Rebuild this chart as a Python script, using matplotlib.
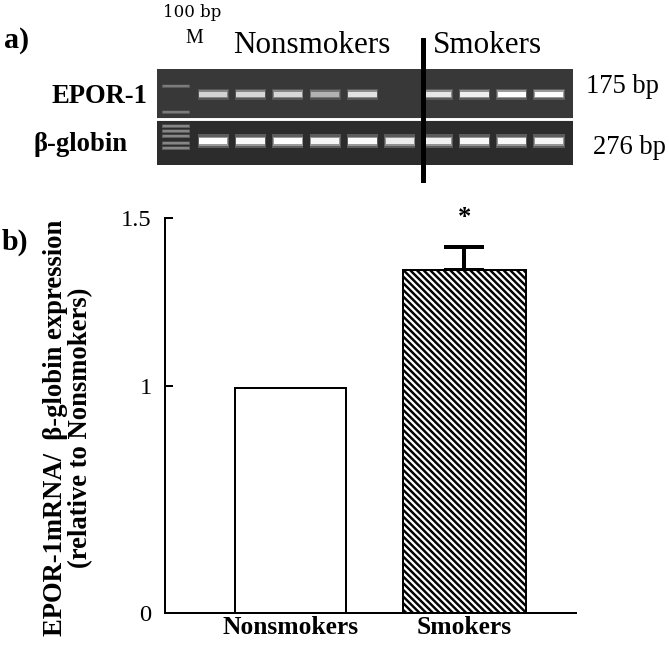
"""EPOR-1 RT-PCR gel and relative expression bar chart (nonsmokers vs smokers)."""
import matplotlib
matplotlib.use("Agg")
import matplotlib.pyplot as plt
import numpy as np
from matplotlib.lines import Line2D
from matplotlib.patches import Rectangle

# ---- data ----
categories = ["Nonsmokers", "Smokers"]
expression = [0.99, 1.345]
sem = [0.0, 0.069]

# gel lanes: 0 = 100 bp marker, 1-6 nonsmokers, 7-10 smokers
epor_band = [0.0, 0.78, 0.80, 0.80, 0.62, 0.85, 0.0, 0.88, 0.92, 1.0, 1.0]
globin_band = [0.0, 1.0, 0.97, 1.0, 0.95, 0.98, 0.9, 0.93, 0.97, 0.97, 0.95]
marker_rows_top = [86, 112]
marker_rows_bottom = [126, 131, 136, 143, 148]

W, H, DPI = 669, 645, 80
SERIF = "Liberation Serif"
plt.rcParams["font.family"] = SERIF
plt.rcParams["hatch.linewidth"] = 2.2


def fx(x):
    return x / W


def fy(y):
    return 1 - y / H


fig = plt.figure(figsize=(W / DPI, H / DPI), dpi=DPI)

# ---- panel a: gel ----
gel = fig.add_axes([fx(157), fy(165), fx(573) - fx(157), fy(69) - fy(165)])
lane0, lane_step = 176, 37.3
gel.set_xlim((157 - lane0) / lane_step, (573 - lane0) / lane_step)
gel.set_ylim(165, 69)
gel.axis("off")

for top, bot, col in [(69, 117, "#383838"), (121, 165, "#2c2c2c")]:
    gel.add_patch(Rectangle((-1, top), 13, bot - top, color=col, zorder=1))


def band(x, yc, h, level, w=0.76):
    bg = np.array([0.21, 0.21, 0.21])
    for grow, a in [(2.2, 0.2), (1.5, 0.5), (1.0, 1.0)]:
        c = bg + (1 - bg) * level * a
        hh = h * grow
        gel.add_patch(Rectangle((x - w / 2 - 0.03 * (grow - 1), yc - hh / 2),
                                w + 0.06 * (grow - 1), hh,
                                color=tuple(c), lw=0, zorder=2 + a))


for i, lv in enumerate(epor_band):
    if lv > 0:
        band(i, 94, 5, lv)
for i, lv in enumerate(globin_band):
    if lv > 0:
        band(i, 141, 6, lv)
for r in marker_rows_top:
    band(0, r, 2, 0.35, w=0.7)
for r in marker_rows_bottom:
    band(0, r, 2, 0.4, w=0.7)

fig.add_artist(Line2D([fx(422.5)] * 2, [fy(40), fy(180)], lw=4.5, color="black"))

fig.text(fx(4), fy(48), "a)", fontsize=27, fontweight="bold", va="baseline")
fig.text(fx(192), fy(17), "100 bp", fontsize=15, family="DejaVu Serif",
         ha="center", va="baseline")
fig.text(fx(194), fy(43), "M", fontsize=18, ha="center", va="baseline")
fig.text(fx(312), fy(53), "Nonsmokers", fontsize=28, ha="center", va="baseline")
fig.text(fx(487), fy(53), "Smokers", fontsize=28, ha="center", va="baseline")
fig.text(fx(99), fy(103), "EPOR-1", fontsize=24, fontweight="bold",
         ha="center", va="baseline")
fig.text(fx(81), fy(151), "β-globin", fontsize=24, fontweight="bold",
         ha="center", va="baseline")
fig.text(fx(586), fy(93), "175 bp", fontsize=24, va="baseline")
fig.text(fx(593), fy(154), "276 bp", fontsize=24, va="baseline")

# ---- panel b: bar chart ----
ax = fig.add_axes([fx(165), fy(613), fx(576) - fx(165), fy(218) - fy(613)])

K = 2 * 168 / 227  # upper segment (1 - 1.5) is drawn compressed


def fwd(v):
    v = np.asarray(v, dtype=float)
    return np.where(v <= 1, v, 1 + (v - 1) * K)


def inv(u):
    u = np.asarray(u, dtype=float)
    return np.where(u <= 1, u, 1 + (u - 1) / K)


ax.set_yscale("function", functions=(fwd, inv))
x = np.arange(len(categories))
ax.bar(x, expression, width=[0.638, 0.707], color="white", edgecolor="black",
       linewidth=1.8, hatch=[None, "\\\\\\\\"], zorder=2)
for xi, v, e in zip(x, expression, sem):
    if e > 0:
        ax.errorbar(xi, v, yerr=[[0], [e]], color="black", lw=3.6,
                    capsize=18, capthick=3.6, zorder=1)
        ax.text(xi, 1.5, "*", fontsize=24, fontweight="bold", ha="center",
                va="center", clip_on=False)

ax.set_xlim(-0.721, 1.641)
ax.set_ylim(0, 1.5)
ax.set_yticks([0, 1, 1.5], ["0", "1", "1.5"])
ax.set_xticks(x, categories, fontsize=23, fontweight="bold")
ax.tick_params(axis="x", length=0, pad=3)
ax.tick_params(axis="y", direction="in", length=7, width=1.8, labelsize=22, pad=12)
for s in ["top", "right"]:
    ax.spines[s].set_visible(False)
for s in ["left", "bottom"]:
    ax.spines[s].set_linewidth(1.8)

fig.text(fx(68), fy(428), "EPOR-1mRNA/  β-globin expression\n(relative to Nonsmokers)",
         rotation=90, fontsize=24, fontweight="bold", ha="center", va="center",
         linespacing=1.05)
fig.text(fx(2), fy(250), "b)", fontsize=27, fontweight="bold", va="baseline")

fig.savefig("out.png", dpi=DPI)
